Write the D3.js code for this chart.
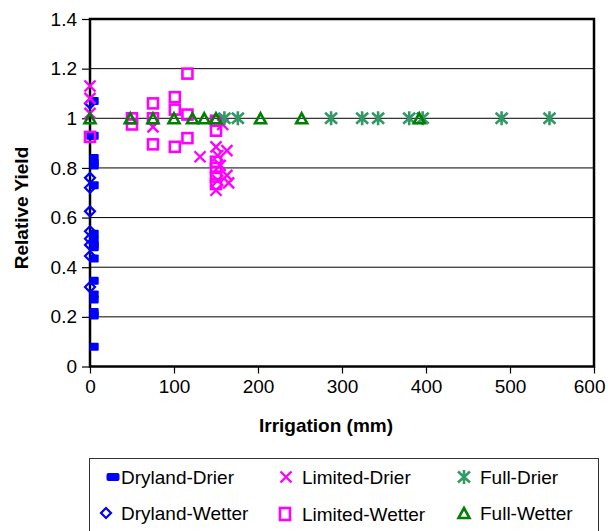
<!DOCTYPE html>
<html><head><meta charset="utf-8">
<script src="https://cdn.jsdelivr.net/npm/d3@7"></script>
<style>
body{margin:0;background:#fff;}
text{font-family:"Liberation Sans",Arial,Helvetica,sans-serif;fill:#000;}
</style></head>
<body><svg id="c" width="608" height="531"></svg>
<script>
// ---- data (irrigation mm, relative yield) ----
const seriesNames = ["Dryland-Drier","Dryland-Wetter","Limited-Drier","Limited-Wetter","Full-Drier","Full-Wetter"];
const drylandDrierX = [5,5,1,5,5,5,5,5,5,5,5,5,5,5,5,5,5,5];
const drylandDrierY = [1.07,0.93,0.93,0.84,0.82,0.81,0.73,0.535,0.51,0.49,0.48,0.435,0.345,0.29,0.27,0.22,0.205,0.08];
const drylandWetterX = [0,0,0,0,0,0,0,0,0];
const drylandWetterY = [1.06,0.76,0.72,0.625,0.545,0.515,0.49,0.445,0.32];
const limitedDrierX = [0,0,0,75,131,150,163,152,155,163,152,165,150,158];
const limitedDrierY = [1.13,1.08,1.02,0.965,0.845,0.885,0.87,0.85,0.81,0.77,0.75,0.74,0.71,0.975];
const limitedWetterX = [0,50,50,75,75,75,101,101,101,116,116,116,150,150,150,150,150,150];
const limitedWetterY = [0.925,1.0,0.975,1.06,1.0,0.895,1.085,1.035,0.885,1.18,1.015,0.92,0.99,0.95,0.825,0.80,0.765,0.735];
const fullDrierX = [160,176,287,324,343,380,396,490,547];
const fullDrierY = [1,1,1,1,1,1,1,1,1];
const fullWetterX = [0,48,75,100,122,136,150,203,252,392];
const fullWetterY = [1,1,1,1,1,1,1,1,1,1];
const xTicks = [0,100,200,300,400,500,600];
const yTicks = [0,0.2,0.4,0.6,0.8,1.0,1.2,1.4];
const xTitle = "Irrigation (mm)";
const yTitle = "Relative Yield";

const svg = d3.select("#c");
const x = d3.scaleLinear().domain([0,600]).range([90,594]);
const y = d3.scaleLinear().domain([0,1.4]).range([366.5,19]);

// gridlines
svg.append("g").selectAll("line").data(yTicks.filter(v=>v>0&&v<1.4)).join("line")
  .attr("x1",x(0)).attr("x2",x(600)).attr("y1",d=>y(d)).attr("y2",d=>y(d))
  .attr("stroke","#000").attr("stroke-width",1);

// axes
const fmtY = d => (d===0?"0":(Math.abs(d-1)<1e-9?"1":d3.format(".1f")(d)));
const gy = svg.append("g").attr("transform",`translate(${x(0)},0)`)
  .call(d3.axisLeft(y).tickValues(yTicks).tickFormat(fmtY).tickSize(8).tickSizeOuter(0).tickPadding(5));
const gx = svg.append("g").attr("transform",`translate(0,${y(0)})`)
  .call(d3.axisBottom(x).tickValues(xTicks).tickFormat(d3.format("d")).tickSize(7).tickSizeOuter(0).tickPadding(6));
[gx,gy].forEach(g=>{
  g.select(".domain").remove();
  g.selectAll("line").attr("stroke","#000").attr("stroke-width",1.2);
  g.selectAll("text").attr("font-size","19px").attr("fill","#000");
});
// last x label is pulled in to fit inside the chart, as in the reference
gx.selectAll(".tick").filter(d=>d===600).select("text").attr("text-anchor","end").attr("x",11);

// frame
svg.append("rect").attr("x",x(0)).attr("y",y(1.4)).attr("width",x(600)-x(0)).attr("height",y(0)-y(1.4))
  .attr("fill","none").attr("stroke","#000").attr("stroke-width",2.5);

// marker drawers
const blue="#0000ff", mag="#ff00ff", sea="#339966", grn="#008000";
const markers = {
  "Dryland-Drier": (g,leg)=> g.append("rect").attr("x",leg?-6.5:-4.5).attr("y",-4).attr("width",leg?13:9).attr("height",8).attr("rx",leg?2:1).attr("fill",blue),
  "Dryland-Wetter": g=> g.append("path").attr("d","M0,-5L5,0L0,5L-5,0Z").attr("fill","none").attr("stroke",blue).attr("stroke-width",2.2),
  "Limited-Drier": g=> g.append("path").attr("d","M-5.5,-5.5L5.5,5.5M-5.5,5.5L5.5,-5.5").attr("fill","none").attr("stroke",mag).attr("stroke-width",2.4),
  "Limited-Wetter": (g,leg)=> g.append("rect").attr("x",-5).attr("y",leg?-6:-5).attr("width",10).attr("height",leg?12:10).attr("fill","none").attr("stroke",mag).attr("stroke-width",2.6),
  "Full-Drier": g=> g.append("path").attr("d","M-6,-5.5L6,5.5M-6,5.5L6,-5.5M0,-7L0,7").attr("fill","none").attr("stroke",sea).attr("stroke-width",2.6),
  "Full-Wetter": g=> g.append("path").attr("d","M0,-5L5.5,5L-5.5,5Z").attr("fill","none").attr("stroke",grn).attr("stroke-width",2.6).attr("stroke-linejoin","miter")
};
const seriesData = [
  [drylandDrierX,drylandDrierY],[drylandWetterX,drylandWetterY],
  [limitedDrierX,limitedDrierY],[limitedWetterX,limitedWetterY],
  [fullDrierX,fullDrierY],[fullWetterX,fullWetterY]
];
seriesNames.forEach((name,i)=>{
  const [xs,ys]=seriesData[i];
  const g = svg.append("g");
  xs.forEach((xv,j)=>{
    const m = g.append("g").attr("transform",`translate(${x(xv)},${y(ys[j])})`);
    markers[name](m,false);
  });
});

// axis titles
svg.append("text").attr("x",326).attr("y",432).attr("text-anchor","middle")
  .attr("font-size","19px").attr("font-weight","bold").text(xTitle);
svg.append("text").attr("transform","translate(28,208) rotate(-90)").attr("text-anchor","middle")
  .attr("font-size","19px").attr("font-weight","bold").text(yTitle);

// legend
svg.append("rect").attr("x",89.5).attr("y",458.5).attr("width",509).attr("height",90)
  .attr("fill","#fff").attr("stroke","#333").attr("stroke-width",1);
const legPos = [
  {n:"Dryland-Drier",mx:113,tx:121,cy:477},
  {n:"Limited-Drier",mx:286,tx:302,cy:477},
  {n:"Full-Drier",mx:464,tx:480,cy:477},
  {n:"Dryland-Wetter",mx:106,tx:121,cy:513},
  {n:"Limited-Wetter",mx:285,tx:302,cy:514},
  {n:"Full-Wetter",mx:464,tx:480,cy:513}
];
legPos.forEach(p=>{
  const m = svg.append("g").attr("transform",`translate(${p.mx},${p.cy})`);
  markers[p.n](m,true);
  svg.append("text").attr("x",p.tx).attr("y",p.cy).attr("dy","0.35em")
    .attr("font-size","19px").text(p.n);
});
</script></body></html>
